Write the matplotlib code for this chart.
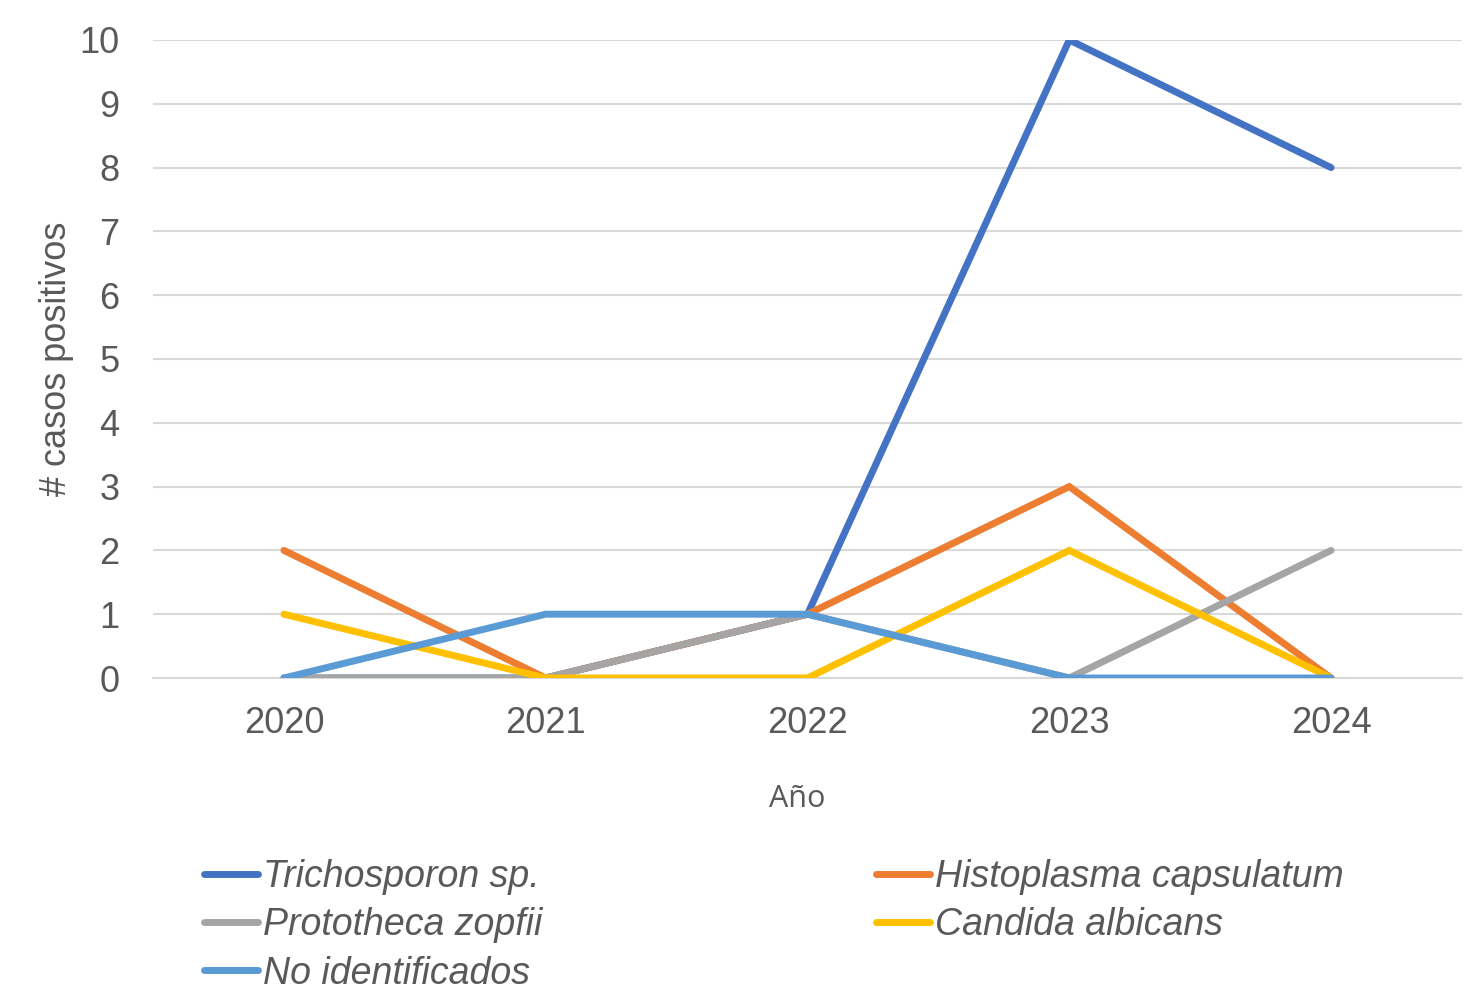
import matplotlib.pyplot as plt
import numpy as np

years = ["2020", "2021", "2022", "2023", "2024"]
trichosporon = [0, 0, 1, 10, 8]
histoplasma = [2, 0, 1, 3, 0]
prototheca = [0, 0, 1, 0, 2]
candida = [1, 0, 0, 2, 0]
no_ident = [0, 1, 1, 0, 0]

series = [
	("Trichosporon sp.", trichosporon, "#4472C4"),
	("Histoplasma capsulatum", histoplasma, "#ED7D31"),
	("Prototheca zopfii", prototheca, "#A5A5A5"),
	("Candida albicans", candida, "#FFC000"),
	("No identificados", no_ident, "#5B9BD5"),
]

plt.rcParams["font.family"] = ["Liberation Sans", "DejaVu Sans"]
text_color = "#595959"

fig = plt.figure(figsize=(14.82, 9.93), dpi=100)
ax = fig.add_axes([153 / 1482, 1 - 678 / 993, (1462 - 153) / 1482, (678 - 40) / 993])

x = np.arange(len(years))
handles = {}
for name, vals, color in series:
	(ln,) = ax.plot(x, vals, color=color, lw=5, solid_capstyle="round",
					solid_joinstyle="miter", label=name, zorder=3)
	handles[name] = ln

ax.set_xlim(-0.5, 4.5)
ax.set_ylim(0, 10)
ax.set_yticks(range(0, 11))
ax.set_xticks(x)
ax.set_xticklabels(years)
ax.grid(axis="y", color="#D9D9D9", lw=1.5, zorder=0)
ax.set_axisbelow(True)
for s in ["top", "right", "left"]:
	ax.spines[s].set_visible(False)
ax.spines["bottom"].set_color("#D9D9D9")
ax.spines["bottom"].set_linewidth(1.5)
ax.tick_params(axis="both", length=0, labelsize=26, colors=text_color)
ax.tick_params(axis="y", pad=24)
ax.tick_params(axis="x", pad=20)
ax.set_ylabel("# casos positivos", fontsize=26, color=text_color, labelpad=4)
ax.set_xlabel("Año", fontsize=22, color=text_color, family=["Open Sans", "DejaVu Sans"])
ax.xaxis.set_label_coords((797 - 153) / (1462 - 153), -(799 - 678) / (678 - 40),
						  transform=ax.transAxes)
ax.xaxis.label.set_va("center")

order = ["Trichosporon sp.", "Prototheca zopfii", "No identificados",
		 "Histoplasma capsulatum", "Candida albicans"]
leg = fig.legend([handles[n] for n in order], order, ncol=2,
				 loc="upper left", bbox_to_anchor=(185 / 1482, 1 - 840 / 993),
				 frameon=False, handlelength=1.45, handletextpad=0.12,
				 columnspacing=8.9, labelspacing=0.33, borderpad=0,
				 prop={"size": 27, "style": "italic"})
for t in leg.get_texts():
	t.set_color(text_color)

plt.savefig("out.png", dpi=100)
